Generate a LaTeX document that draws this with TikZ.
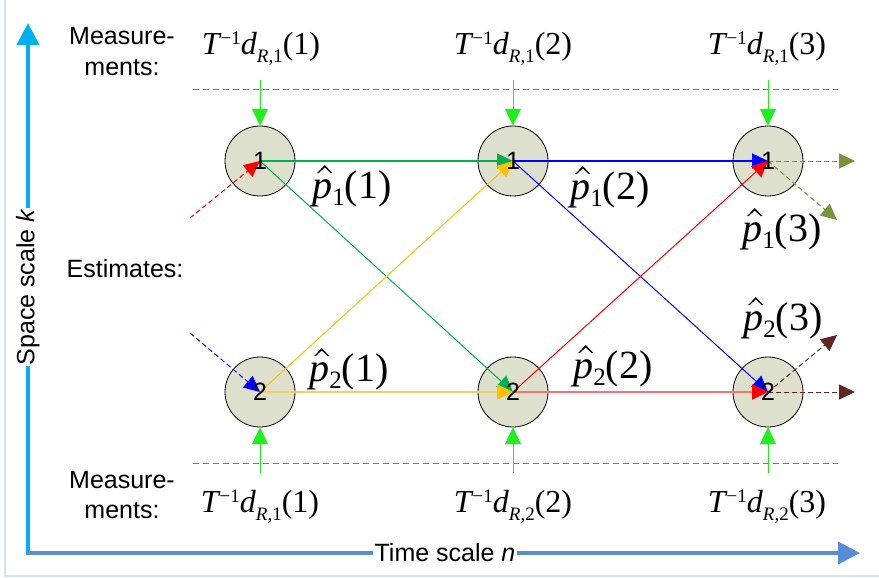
\documentclass[tikz,border=0pt]{standalone}
\usepackage{fontspec}
\setmainfont{Liberation Serif}
\newfontfamily\arialf{Liberation Sans}
\usetikzlibrary{arrows.meta}
\pgfdeclarelayer{bg}
\pgfdeclarelayer{mid}
\pgfsetlayers{bg,mid,main}
\definecolor{nodefill}{RGB}{221,224,204}
\definecolor{measgreen}{RGB}{30,240,30}
\definecolor{sepblue}{RGB}{79,129,189}
\definecolor{cgreen}{RGB}{0,176,80}
\definecolor{corange}{RGB}{255,192,0}
\definecolor{clyellow}{RGB}{248,205,90}
\definecolor{cblue}{RGB}{0,0,255}
\definecolor{cred}{RGB}{255,0,0}
\definecolor{clred}{RGB}{255,112,112}
\definecolor{colive}{RGB}{119,147,60}
\definecolor{cbrown}{RGB}{99,37,35}
\definecolor{axiscyan}{RGB}{0,176,240}
\definecolor{axisblue}{RGB}{85,142,213}
\definecolor{framec}{RGB}{214,227,242}
\newcommand{\Tlab}[2]{{\fontsize{32}{32}\selectfont\textit{T}\kern-1pt\raisebox{10pt}{\fontsize{19}{19}\selectfont −1}\textit{d}\raisebox{-8pt}{\fontsize{19}{19}\selectfont\textit{R},#1}(#2)}}
\newcommand{\Phat}[2]{{\fontsize{40}{40}\selectfont\textit{p}\raisebox{-7pt}{\fontsize{25}{25}\selectfont #1}(#2)}}
\newcommand{\drawhat}[1]{\begin{scope}[shift={(#1.base west)}]\fill (5,-25) -- (12.5,-33) -- (20,-25) -- (18.5,-25) -- (12.5,-30.5) -- (6.5,-25) -- cycle;\end{scope}}
\begin{document}
\begin{tikzpicture}[x=1pt,y=-1pt,
  every node/.style={inner sep=0pt},
  circ/.style={circle,minimum size=70pt,inner sep=0pt,font=\arialf\fontsize{25}{25}\selectfont},
  disc/.style={draw=black,line width=0.8pt,fill=nodefill},
  sans/.style={font=\arialf\fontsize{25}{25}\selectfont},
  hd/.style={-{Triangle[length=16pt,width=15pt]}},
  meas/.style={draw=measgreen,line width=1pt,-{Triangle[length=17pt,width=16pt]}},
  sepline/.style={draw=sepblue,line width=0.8pt,dash pattern=on 6pt off 4pt},
  conn/.style={line width=1pt,hd},
  thickconn/.style={line width=2pt,hd},
  dconn/.style={line width=1pt,dash pattern=on 5pt off 3pt,hd},
  axisarrow/.style={line width=4pt,-{Triangle[length=22pt,width=22pt]}}
]
\useasboundingbox (0,0) rectangle (879,578);

% frame
\coordinate (f1) at (5,-5);
\coordinate (f2) at (5,576);
\coordinate (f3) at (885,576);
\draw[framec,line width=1.5pt] (f1) -- (f2) -- (f3);

% axes
\coordinate (o) at (28,553);
\coordinate (ytop) at (28,23);
\coordinate (xo) at (26,553);
\coordinate (xend) at (860,553);
\draw[axiscyan,axisarrow] (o) -- (ytop);
\draw[axisblue,axisarrow] (xo) -- (xend);
\node[sans,rotate=90,fill=white,inner xsep=1pt,inner ysep=1pt] (ylab) at (28,287) {Space scale \textit{k}};
\node[sans,fill=white,inner xsep=2pt,inner ysep=1pt] (xlab) at (445,553) {Time scale \textit{n}};

% side labels
\node[sans,anchor=base] (mt1) at (122,45) {Measure-};
\node[sans,anchor=base] (mt2) at (122,76) {ments:};
\node[sans,anchor=base] (est) at (125,277) {Estimates:};
\node[sans,anchor=base] (mb1) at (122,488) {Measure-};
\node[sans,anchor=base] (mb2) at (122,518) {ments:};

% state nodes (digits on top layer)
\node[circ] (n11) at (260,161) {1};
\node[circ] (n12) at (513,161) {1};
\node[circ] (n13) at (768,161) {1};
\node[circ] (n21) at (260,392) {2};
\node[circ] (n22) at (513,392) {2};
\node[circ] (n23) at (768,392) {2};

\begin{pgfonlayer}{bg}
  \foreach \n in {n11,n12,n13,n21,n22,n23} {\path[disc] (\n.center) circle (35pt);}
\end{pgfonlayer}

% measurement labels
\node[anchor=base] (tm1) at (261,55) {\Tlab{1}{1}};
\node[anchor=base] (tm2) at (513,55) {\Tlab{1}{2}};
\node[anchor=base] (tm3) at (767,55) {\Tlab{1}{3}};
\node[anchor=base] (bm1) at (260,512) {\Tlab{1}{1}};
\node[anchor=base] (bm2) at (513,512) {\Tlab{2}{2}};
\node[anchor=base] (bm3) at (767,512) {\Tlab{2}{3}};

% estimate labels (hat drawn as a shape)
\node[anchor=base] (e11) at (352,198) {\Phat{1}{1}};
\node[anchor=base] (e21) at (349,381) {\Phat{2}{1}};
\node[anchor=base] (e12) at (610,199) {\Phat{1}{2}};
\node[anchor=base] (e22) at (613,378) {\Phat{2}{2}};
\node[anchor=base] (e13) at (782,241) {\Phat{1}{3}};
\node[anchor=base] (e23) at (783,330) {\Phat{2}{3}};
\drawhat{e11}\drawhat{e21}\drawhat{e12}\drawhat{e22}\drawhat{e13}\drawhat{e23}

\begin{pgfonlayer}{mid}
  % separators
  \coordinate (s1a) at (193,89);
  \coordinate (s1b) at (838,89);
  \coordinate (s2a) at (193,463);
  \coordinate (s2b) at (838,463);
  \draw[sepline] (s1a) -- (s1b);
  \draw[sepline] (s2a) -- (s2b);
  % measurement arrows
  \coordinate (mt1s) at (260,80);
  \coordinate (mt2s) at (513,80);
  \coordinate (mt3s) at (768,80);
  \coordinate (mb1s) at (260,473);
  \coordinate (mb2s) at (513,473);
  \coordinate (mb3s) at (768,473);
  \draw[meas] (mt1s) -- (n11.north);
  \draw[meas] (mt2s) -- (n12.north);
  \draw[meas] (mt3s) -- (n13.north);
  \draw[meas] (mb1s) -- (n21.south);
  \draw[meas] (mb2s) -- (n22.south);
  \draw[meas] (mb3s) -- (n23.south);
  % incoming estimates
  \coordinate (in1) at (190,218);
  \coordinate (in2) at (190,333);
  \draw[cred,dconn] (in1) -- (n11.center);
  \draw[cblue,dconn] (in2) -- (n21.center);
  % transitions 1 -> 2
  \draw[cgreen,line width=1.5pt,hd] (n11.center) -- (n12.center);
  \draw[cgreen,conn] (n11.center) -- (n22.center);
  \draw[corange,conn] (n21.center) -- (n12.center);
  \draw[clyellow,thickconn,-{Triangle[length=16pt,width=15pt,color=corange]}] (n21.center) -- (n22.center);
  % transitions 2 -> 3
  \draw[cblue,line width=1.5pt,hd] (n12.center) -- (n13.center);
  \draw[cblue,conn] (n12.center) -- (n23.center);
  \draw[cred,conn] (n22.center) -- (n13.center);
  \draw[clred,thickconn,-{Triangle[length=16pt,width=15pt,color=cred]}] (n22.center) -- (n23.center);
  % outgoing
  \coordinate (o1a) at (855,161);
  \coordinate (o1b) at (837,220);
  \coordinate (o2a) at (855,392);
  \coordinate (o2b) at (837,335);
  \draw[colive,dconn] (n13.center) -- (o1a);
  \draw[colive,dconn] (n13.center) -- (o1b);
  \draw[cbrown,dconn] (n23.center) -- (o2a);
  \draw[cbrown,dconn] (n23.center) -- (o2b);
\end{pgfonlayer}
\end{tikzpicture}
\end{document}
